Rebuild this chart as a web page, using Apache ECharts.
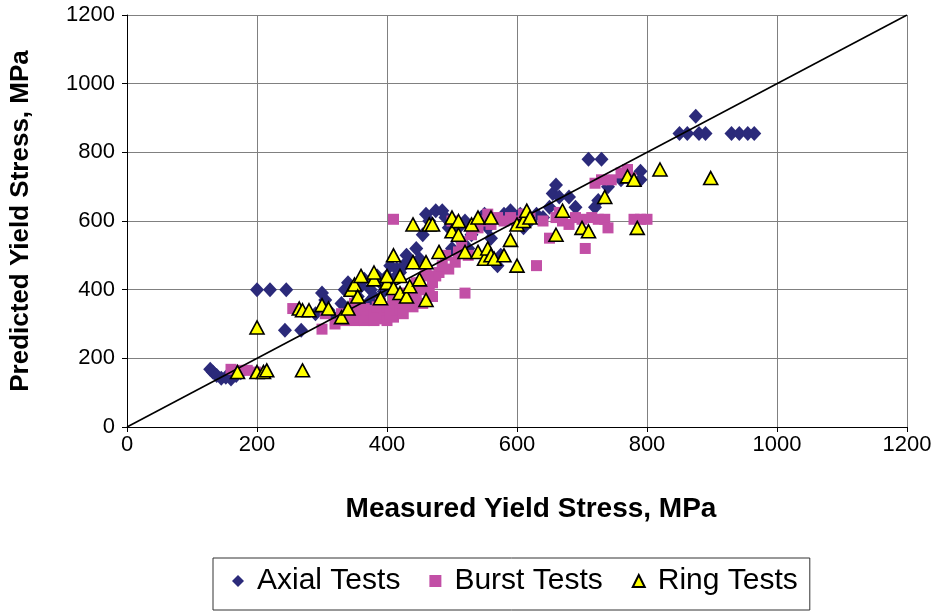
<!DOCTYPE html>
<html>
<head>
<meta charset="utf-8">
<script src="https://cdn.jsdelivr.net/npm/echarts@6/dist/echarts.min.js"></script>
<style>html,body{margin:0;padding:0;background:#fff}#c{width:938px;height:611px}</style>
</head>
<body>
<div id="c"></div>
<script>
const xTicks = [0, 200, 400, 600, 800, 1000, 1200];
const yTicks = [0, 200, 400, 600, 800, 1000, 1200];
const seriesNames = ['Axial Tests', 'Burst Tests', 'Ring Tests'];
const axialData = [[128,168],[132,160],[138,150],[145,142],[152,145],[160,140],[168,150],[175,158],
[200,400],[220,400],[245,400],[243,282],[268,282],
[290,330],[300,390],[305,370],[310,340],[318,320],[325,310],[330,360],[335,400],[340,420],[345,340],[350,330],[355,380],[360,410],[365,430],[370,360],[375,400],[380,380],[385,440],[390,420],[395,395],[400,440],[405,470],[410,430],[415,460],[420,450],[425,470],[430,500],[440,480],[445,520],[450,490],[455,560],[460,620],[465,600],[475,630],[485,630],[490,610],[495,580],[500,520],[505,560],[510,580],[515,540],[520,600],[525,520],[530,560],[535,580],[540,600],[545,610],[550,620],[555,580],[560,550],[565,480],[570,470],[575,500],[580,620],[585,610],[590,630],[595,600],[600,600],[605,620],[610,580],[620,600],[630,620],[640,610],[650,640],[655,680],[660,705],[665,670],[680,670],[690,640],[710,780],[730,780],[720,640],[725,660],[740,700],[760,720],[790,745],[790,720],[850,855],[862,855],[875,905],[880,855],[890,855],[930,855],[942,855],[955,855],[965,855]];
const burstData = [[160,168],[172,165],[185,165],[198,160],[255,345],[300,285],[305,330],[320,300],[330,330],[335,310],[340,320],[345,340],[350,310],[350,360],[355,320],[360,330],[365,310],[365,345],[370,320],[375,340],[380,310],[380,325],[385,350],[390,360],[395,315],[395,330],[400,310],[400,350],[405,330],[410,320],[410,370],[415,340],[410,605],[420,345],[420,380],[425,330],[425,360],[430,390],[435,370],[440,350],[440,400],[445,380],[445,420],[450,420],[455,360],[455,400],[460,440],[460,460],[465,390],[470,380],[470,420],[475,440],[480,450],[485,470],[490,500],[495,460],[500,600],[505,480],[510,510],[515,540],[520,390],[525,500],[530,560],[540,580],[550,600],[555,620],[560,590],[570,610],[580,600],[590,610],[600,600],[610,620],[620,610],[630,470],[640,600],[650,550],[660,610],[665,625],[670,600],[680,590],[690,610],[700,605],[705,520],[715,610],[725,605],[735,605],[740,580],[720,710],[730,720],[745,720],[760,740],[770,750],[780,605],[790,605],[800,605],[775,725]];
const ringData = [[170,160],[200,160],[210,160],[215,165],[270,165],[200,290],[265,345],[270,340],[280,340],[300,355],[310,345],[330,320],[340,345],[345,400],[350,415],[355,380],[360,440],[380,430],[380,450],[390,375],[400,420],[400,440],[410,405],[410,500],[420,440],[420,390],[430,380],[435,410],[440,480],[440,590],[450,430],[460,370],[460,480],[465,590],[470,590],[480,510],[500,570],[500,610],[510,600],[510,560],[520,510],[530,590],[540,610],[540,510],[550,490],[555,520],[560,610],[560,500],[565,490],[580,500],[590,545],[600,470],[600,590],[610,600],[615,630],[620,610],[660,560],[670,630],[700,580],[710,570],[735,670],[770,730],[780,720],[785,580],[820,750],[898,725]];
const refLine = [[0,0],[1200,1200]];

const chart = echarts.init(document.getElementById('c'));
const font = 'Liberation Sans, Arial, sans-serif';
chart.setOption({
  animation: false,
  grid: { left: 125, right: 31, top: 15, bottom: 184 },
  xAxis: {
    type: 'value', min: 0, max: 1200, interval: 200,
    name: 'Measured Yield Stress, MPa', nameLocation: 'middle', nameGap: 68,
    nameTextStyle: { fontFamily: font, fontSize: 28, fontWeight: 'bold', color: '#000', padding: [0, 0, 0, 28] },
    axisLine: { lineStyle: { color: '#000', width: 1 } },
    axisTick: { show: true, length: 5, lineStyle: { color: '#000' } },
    axisLabel: { fontFamily: font, fontSize: 22, color: '#000', margin: 7, formatter: v => String(v) },
    splitLine: { show: true, lineStyle: { color: '#808080', width: 1 } }
  },
  yAxis: {
    type: 'value', min: 0, max: 1200, interval: 200,
    name: 'Predicted Yield Stress, MPa', nameLocation: 'middle', nameGap: 93,
    nameTextStyle: { fontFamily: font, fontSize: 26, fontWeight: 'bold', color: '#000' },
    axisLine: { show: true, lineStyle: { color: '#000', width: 1 } },
    axisTick: { show: true, length: 5, lineStyle: { color: '#000' } },
    axisLabel: { fontFamily: font, fontSize: 22, color: '#000', margin: 12, formatter: v => String(v) },
    splitLine: { show: true, lineStyle: { color: '#808080', width: 1 } }
  },
  legend: {
    data: seriesNames,
    left: 213, top: 558,
    padding: [8, 12, 14, 19],
    borderColor: '#333', borderWidth: 1,
    itemGap: 29, itemWidth: 12, itemHeight: 12,
    textStyle: { fontFamily: font, fontSize: 30, color: '#000', padding: [0, 0, 0, 8] }
  },
  series: [
    { name: seriesNames[0], type: 'scatter', data: axialData, symbol: 'diamond', symbolSize: [14, 15],
      itemStyle: { color: '#2b2a7a', opacity: 1 } },
    { name: seriesNames[1], type: 'scatter', data: burstData, symbol: 'rect', symbolSize: 11,
      itemStyle: { color: '#c24fa6', opacity: 1 } },
    { name: 'line', type: 'line', data: refLine, symbol: 'none', silent: true, z: 3,
      lineStyle: { color: '#000', width: 1.6 } },
    { name: seriesNames[2], type: 'scatter', data: ringData, symbol: 'triangle', symbolSize: [14, 13], z: 4,
      itemStyle: { color: '#ffff00', borderColor: '#000', borderWidth: 1.6, opacity: 1 } }
  ]
});
</script>
</body>
</html>
